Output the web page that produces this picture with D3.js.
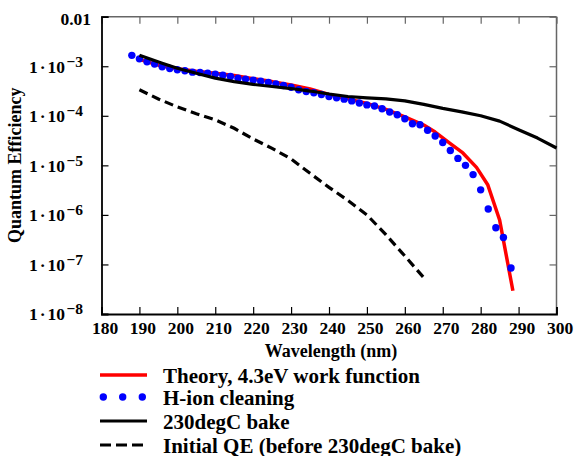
<!DOCTYPE html>
<html>
<head>
<meta charset="utf-8">
<title>Quantum Efficiency</title>
<script src="https://cdn.jsdelivr.net/npm/d3@7"></script>
<style>
  body { margin: 0; background: #fff; }
  svg text { font-family: "Liberation Serif", "Times New Roman", serif; font-weight: bold; fill: #000; }
</style>
</head>
<body>
<svg id="chart" width="574" height="456"></svg>
<script>
// Theory, 4.3eV work function
var theoryWl = [190, 195, 200, 205, 210, 215, 220, 225, 230, 235, 240, 245, 250, 255, 260, 265, 268, 272, 275.3, 278.9, 281.9, 285, 288.5];
var theoryQE = [1.38e-3, 1.05e-3, 8.9e-4, 7.9e-4, 7.2e-4, 6.5e-4, 5.6e-4, 4.9e-4, 4.2e-4, 3.5e-4, 2.7e-4, 2.2e-4, 1.78e-4, 1.35e-4, 9.5e-5, 6.5e-5, 4.7e-5, 2.75e-5, 1.78e-5, 9.1e-6, 4.0e-6, 7.9e-7, 2.95e-8];

// H-ion cleaning (measured every 2 nm)
var hionWl = [188, 190, 192, 194, 196, 198, 200, 202, 204, 206, 208, 210, 212, 214, 216, 218, 220, 222, 224, 226,
              228, 230, 232, 234, 236, 238, 240, 242, 244, 246, 248, 250, 252, 254, 256, 258, 260, 262, 264, 266,
              268, 270, 272, 274, 276, 278, 280, 282, 284, 286, 288];
var hionQE = [1.66e-3, 1.41e-3, 1.23e-3, 1.11e-3, 9.8e-4, 9.0e-4, 8.5e-4, 8.1e-4, 7.6e-4, 7.5e-4, 7.2e-4, 6.95e-4, 6.6e-4, 6.2e-4, 5.75e-4, 5.5e-4, 5.25e-4, 5.0e-4, 4.7e-4, 4.4e-4,
              4.1e-4, 3.76e-4, 3.35e-4, 3.1e-4, 2.92e-4, 2.7e-4, 2.45e-4, 2.31e-4, 2.17e-4, 2.0e-4, 1.81e-4, 1.66e-4, 1.58e-4, 1.39e-4, 1.19e-4, 1.05e-4, 8.7e-5, 6.9e-5, 6.6e-5, 5.1e-5,
              3.9e-5, 2.9e-5, 2.0e-5, 1.38e-5, 1.0e-5, 6.5e-6, 3.2e-6, 1.32e-6, 5.5e-7, 3.5e-7, 8.5e-8];

// 230degC bake
var bakeWl = [190, 193, 196, 200, 205, 210, 215, 220, 225, 230, 235, 240, 245, 250, 255, 260, 265, 270, 275, 280, 285, 290, 295, 300];
var bakeQE = [1.66e-3, 1.38e-3, 1.15e-3, 9.1e-4, 7.2e-4, 5.75e-4, 4.9e-4, 4.3e-4, 3.9e-4, 3.55e-4, 3.16e-4, 2.75e-4, 2.45e-4, 2.3e-4, 2.2e-4, 2.0e-4, 1.7e-4, 1.41e-4, 1.2e-4, 1.0e-4, 7.8e-5, 5.25e-5, 3.55e-5, 2.24e-5];

// Initial QE (before 230degC bake)
var initWl = [190, 195, 200, 205, 210, 215, 220, 225, 230, 235, 240, 245, 250, 255, 260, 265.3];
var initQE = [3.35e-4, 2.19e-4, 1.51e-4, 1.1e-4, 8.3e-5, 5.6e-5, 3.4e-5, 2.2e-5, 1.35e-5, 6.9e-6, 3.6e-6, 1.95e-6, 1.0e-6, 4.0e-7, 1.48e-7, 5.1e-8];

var xTicks = [180, 190, 200, 210, 220, 230, 240, 250, 260, 270, 280, 290, 300];
var yTicks = [1e-8, 1e-7, 1e-6, 1e-5, 1e-4, 1e-3, 1e-2];
var legendLabels = ["Theory, 4.3eV work function", "H-ion cleaning", "230degC bake", "Initial QE (before 230degC bake)"];

var pLeft = 101.5, pRight = 556.5, pTop = 16.7, pBottom = 314;

var svg = d3.select("#chart");

var x = d3.scaleLinear().domain([180, 300]).range([pLeft, pRight]);
var y = d3.scaleLog().domain([1e-8, 1e-2]).range([pBottom, pTop]);

function pairs(xs, ys) { return xs.map(function(v, i) { return [v, ys[i]]; }); }

// frame: top and right drawn grey, bottom and left black
svg.append("line").attr("x1", pLeft).attr("x2", pRight).attr("y1", pTop).attr("y2", pTop)
  .attr("stroke", "#666").attr("stroke-width", 1.5);
svg.append("line").attr("x1", pRight).attr("x2", pRight).attr("y1", pTop).attr("y2", pBottom)
  .attr("stroke", "#666").attr("stroke-width", 1.5);

var topAxis = svg.append("g").attr("transform", "translate(0," + pTop + ")")
  .call(d3.axisTop(x).tickValues(xTicks).tickSize(-7).tickFormat(""));
topAxis.select(".domain").remove();
topAxis.selectAll("line").attr("stroke", "#666").attr("stroke-width", 1.2);

var rightAxis = svg.append("g").attr("transform", "translate(" + pRight + ",0)")
  .call(d3.axisRight(y).tickValues(yTicks).tickSize(-7).tickFormat(""));
rightAxis.select(".domain").remove();
rightAxis.selectAll("line").attr("stroke", "#666").attr("stroke-width", 1.2);

var xAxis = svg.append("g").attr("transform", "translate(0," + pBottom + ")")
  .call(d3.axisBottom(x).tickValues(xTicks).tickSize(-7));
xAxis.select(".domain").attr("stroke", "#000").attr("stroke-width", 1.8);
xAxis.selectAll("line").attr("stroke", "#000").attr("stroke-width", 1.2);
xAxis.selectAll("text")
  .attr("font-family", "Liberation Serif, serif").attr("font-weight", "bold")
  .attr("font-size", 17.5).attr("dx", 3).attr("y", 20).attr("dy", 0);

var yAxis = svg.append("g").attr("transform", "translate(" + pLeft + ",0)")
  .call(d3.axisLeft(y).tickValues(yTicks).tickSize(-7).tickFormat(""));
yAxis.select(".domain").attr("stroke", "#000").attr("stroke-width", 1.8);
yAxis.selectAll("line").attr("stroke", "#000").attr("stroke-width", 1.2);

// y tick labels: 0.01 and 1·10^-n
yTicks.forEach(function(t) {
  var ty = y(t);
  var e = Math.round(Math.log10(t));
  if (e === -2) {
    svg.append("text").attr("x", 91).attr("y", ty + 8.3).attr("text-anchor", "end")
      .attr("font-size", 17.5).text("0.01");
  } else {
    var lab = svg.append("text").attr("x", 65).attr("y", ty + 6.4).attr("text-anchor", "end")
      .attr("font-size", 17.5);
    lab.append("tspan").text("1");
    lab.append("tspan").attr("dx", 2).text("\u00b7");
    lab.append("tspan").attr("dx", 2).text("10");
    svg.append("text").attr("x", 66.5).attr("y", ty + 0.4).attr("text-anchor", "start")
      .attr("font-size", 15.5).text("\u2212" + (-e));
  }
});

// axis titles
svg.append("text").attr("x", (pLeft + pRight) / 2 + 2).attr("y", 357).attr("text-anchor", "middle")
  .attr("font-size", 18).text("Wavelength (nm)");
svg.append("text").attr("transform", "translate(21," + ((pTop + pBottom) / 2) + ") rotate(-90)")
  .attr("text-anchor", "middle").attr("font-size", 18).text("Quantum Efficiency");

var line = d3.line().x(function(d) { return x(d[0]); }).y(function(d) { return y(d[1]); });

svg.append("path").datum(pairs(theoryWl, theoryQE)).attr("d", line)
  .attr("fill", "none").attr("stroke", "#ff0000").attr("stroke-width", 3.5).attr("stroke-linejoin", "round");

svg.selectAll("circle.hion").data(pairs(hionWl, hionQE)).enter().append("circle")
  .attr("class", "hion").attr("cx", function(d) { return x(d[0]); }).attr("cy", function(d) { return y(d[1]); })
  .attr("r", 3.7).attr("fill", "#0000ff");

svg.append("path").datum(pairs(bakeWl, bakeQE)).attr("d", line)
  .attr("fill", "none").attr("stroke", "#000").attr("stroke-width", 3.2).attr("stroke-linejoin", "round");

svg.append("path").datum(pairs(initWl, initQE)).attr("d", line)
  .attr("fill", "none").attr("stroke", "#000").attr("stroke-width", 3.2).attr("stroke-dasharray", "9,5");

// legend
var legY = [375, 397, 421, 445];
var lg = svg.append("g");
lg.append("line").attr("x1", 100).attr("x2", 147).attr("y1", legY[0]).attr("y2", legY[0])
  .attr("stroke", "#ff0000").attr("stroke-width", 3.5);
[103.3, 122.7, 142.3].forEach(function(cx) {
  lg.append("circle").attr("cx", cx).attr("cy", legY[1]).attr("r", 3.7).attr("fill", "#0000ff");
});
lg.append("line").attr("x1", 100).attr("x2", 147).attr("y1", legY[2]).attr("y2", legY[2])
  .attr("stroke", "#000").attr("stroke-width", 3.2);
lg.append("line").attr("x1", 100).attr("x2", 147).attr("y1", legY[3]).attr("y2", legY[3])
  .attr("stroke", "#000").attr("stroke-width", 3.2).attr("stroke-dasharray", "11,5");
legendLabels.forEach(function(s, i) {
  lg.append("text").attr("x", 163).attr("y", legY[i] + 7.5).attr("font-size", 21).text(s);
});
</script>
</body>
</html>
